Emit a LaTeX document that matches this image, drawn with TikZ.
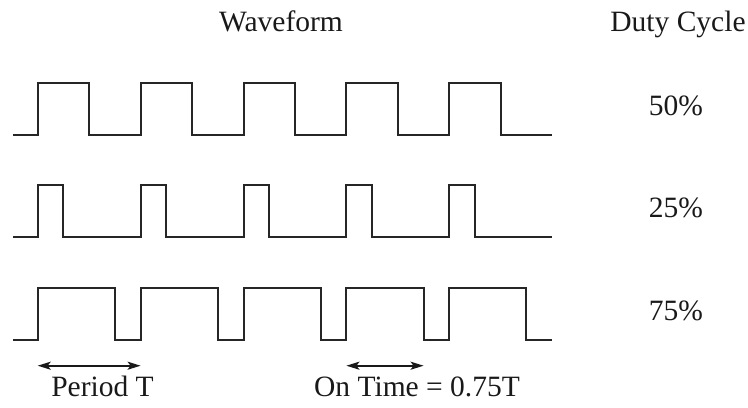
\documentclass[tikz,border=0pt]{standalone}
\usepackage{fontspec}
\setmainfont{Liberation Serif}
\usetikzlibrary{arrows.meta}

\tikzset{
  wave/.style={line width=1pt,black!85,line join=miter},
  lbl/.style={anchor=base,inner sep=0pt,black!90,font=\fontsize{14.75}{18}\selectfont},
  arrowspan/.style={line width=1pt,black!90,{Stealth[length=6.5pt,width=4pt,inset=1.5pt]}-{Stealth[length=6.5pt,width=4pt,inset=1.5pt]}}
}

\begin{document}
\begin{tikzpicture}[x=0.5pt,y=-0.5pt]
            \def\T{102.9}
            \def\h{51.7}
            \def\xs{13}
            \def\xr{37.7}
            \useasboundingbox (0,0) rectangle (748,407);
            \coordinate (r1) at (\xs,134.5);
            \coordinate (r2) at (\xs,236.7);
            \coordinate (r3) at (\xs,340);
            \coordinate (pa) at (\xr,365.7);
            \coordinate (pb) at (\xr+\T,365.7);
            \coordinate (oa) at (\xr+3*\T,365.7);
            \coordinate (ob) at (\xr+3.75*\T,365.7);
            %Titles
            \node[lbl] (wavetitle) at (281,32) {Waveform};
            \node[lbl] (dutytitle) at (678,32) {Duty Cycle};
            %50% duty
            \draw[wave] (r1) -- ++(\xr-\xs,0)
                -- ++(0,-\h) -- ++(0.5*\T,0) -- ++(0,\h) -- ++(0.5*\T,0)
                -- ++(0,-\h) -- ++(0.5*\T,0) -- ++(0,\h) -- ++(0.5*\T,0)
                -- ++(0,-\h) -- ++(0.5*\T,0) -- ++(0,\h) -- ++(0.5*\T,0)
                -- ++(0,-\h) -- ++(0.5*\T,0) -- ++(0,\h) -- ++(0.5*\T,0)
                -- ++(0,-\h) -- ++(0.5*\T,0) -- ++(0,\h) -- ++(0.5*\T,0);
            \node[lbl] (d50) at (676,115) {50\%};
            %25% duty
            \draw[wave] (r2) -- ++(\xr-\xs,0)
                -- ++(0,-\h) -- ++(0.25*\T,0) -- ++(0,\h) -- ++(0.75*\T,0)
                -- ++(0,-\h) -- ++(0.25*\T,0) -- ++(0,\h) -- ++(0.75*\T,0)
                -- ++(0,-\h) -- ++(0.25*\T,0) -- ++(0,\h) -- ++(0.75*\T,0)
                -- ++(0,-\h) -- ++(0.25*\T,0) -- ++(0,\h) -- ++(0.75*\T,0)
                -- ++(0,-\h) -- ++(0.25*\T,0) -- ++(0,\h) -- ++(0.75*\T,0);
            \node[lbl] (d25) at (676,217.7) {25\%};
            %75% duty
            \draw[wave] (r3) -- ++(\xr-\xs,0)
                -- ++(0,-\h) -- ++(0.75*\T,0) -- ++(0,\h) -- ++(0.25*\T,0)
                -- ++(0,-\h) -- ++(0.75*\T,0) -- ++(0,\h) -- ++(0.25*\T,0)
                -- ++(0,-\h) -- ++(0.75*\T,0) -- ++(0,\h) -- ++(0.25*\T,0)
                -- ++(0,-\h) -- ++(0.75*\T,0) -- ++(0,\h) -- ++(0.25*\T,0)
                -- ++(0,-\h) -- ++(0.75*\T,0) -- ++(0,\h) -- ++(0.25*\T,0);
            \node[lbl] (d75) at (676,320.4) {75\%};
            %Spans
            \draw[arrowspan] (pa) -- (pb);
            \draw[arrowspan] (oa) -- (ob);
            \node[lbl] (periodlabel) at (102.5,396.7) {Period T};
            \node[lbl] (ontimelabel) at (417,396.7) {On Time = 0.75T};
        \end{tikzpicture}
\end{document}
